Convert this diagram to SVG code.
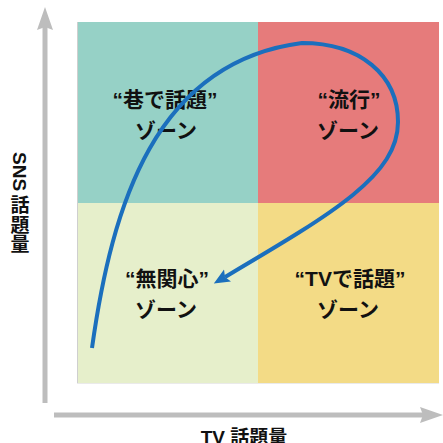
<svg xmlns="http://www.w3.org/2000/svg" width="443" height="443" viewBox="0 0 443 443">
  <style>
    .lbl { font-family: "Liberation Sans", "Noto Sans CJK JP", sans-serif; font-weight: 700; font-size: 21px; fill: #111111; text-anchor: middle; }
    .ax { font-family: "Liberation Sans", "Noto Sans CJK JP", sans-serif; font-weight: 700; font-size: 19px; fill: #111111; }
    .axline { stroke: #BDBDBD; stroke-width: 5; fill: none; }
    .axhead { fill: #BDBDBD; }
    .flow { stroke: #1B6FBD; stroke-width: 4; fill: none; }
  </style>
  <defs>
    <marker id="ah" markerUnits="userSpaceOnUse" viewBox="0 -8 18 16" markerWidth="18" markerHeight="16" refX="3" refY="0" orient="auto">
      <path d="M0,-7 L16,0 L0,7 L3,0 Z" fill="#1B6FBD"/>
    </marker>
  </defs>
  <rect width="443" height="443" fill="#ffffff"/>

  <g id="zone-sns">
    <rect x="77" y="22" width="181" height="181" fill="#96D1C6"/>
    <text class="lbl" x="165" y="107">“巷で話題”</text>
    <text class="lbl" x="166" y="138">ゾーン</text>
  </g>
  <g id="zone-trend">
    <rect x="258" y="22" width="181" height="181" fill="#E67B7B"/>
    <text class="lbl" x="349" y="107">“流行”</text>
    <text class="lbl" x="348" y="138">ゾーン</text>
  </g>
  <g id="zone-none">
    <rect x="77" y="203" width="181" height="181" fill="#E6EFCB"/>
    <text class="lbl" x="167" y="286">“無関心”</text>
    <text class="lbl" x="166" y="317">ゾーン</text>
  </g>
  <g id="zone-tv">
    <rect x="258" y="203" width="181" height="181" fill="#F3DB86"/>
    <text class="lbl" x="350" y="286">“TVで話題”</text>
    <text class="lbl" x="348" y="317">ゾーン</text>
  </g>
  <line x1="77.5" y1="22" x2="77.5" y2="384" stroke="#CFCFCF" stroke-width="1"/>
  <line x1="77" y1="383.5" x2="439" y2="383.5" stroke="#EAEAEA" stroke-width="1"/>

  <g id="axes">
    <line class="axline" x1="45" y1="403" x2="45" y2="26"/>
    <polygon class="axhead" points="45,7 53,30 45,27 37,30"/>
    <line class="axline" x1="54" y1="415" x2="425" y2="415"/>
    <polygon class="axhead" points="443,415 420,407 423,415 420,423"/>
    <text class="ax" transform="translate(13,152) rotate(90)" x="0" y="0">SNS</text>
    <text class="ax" x="20" y="212" text-anchor="middle">話</text>
    <text class="ax" x="20" y="232" text-anchor="middle">題</text>
    <text class="ax" x="20" y="251" text-anchor="middle">量</text>
    <text class="ax" x="244" y="444" text-anchor="middle">TV 話題量</text>
  </g>

  <g id="connectors">
    <path class="flow" marker-end="url(#ah)" d="M92,348 C112,205 155,62 302,43 C360,43 398,75 398,122 C398,175 335,212 225,277"/>
  </g>
</svg>
